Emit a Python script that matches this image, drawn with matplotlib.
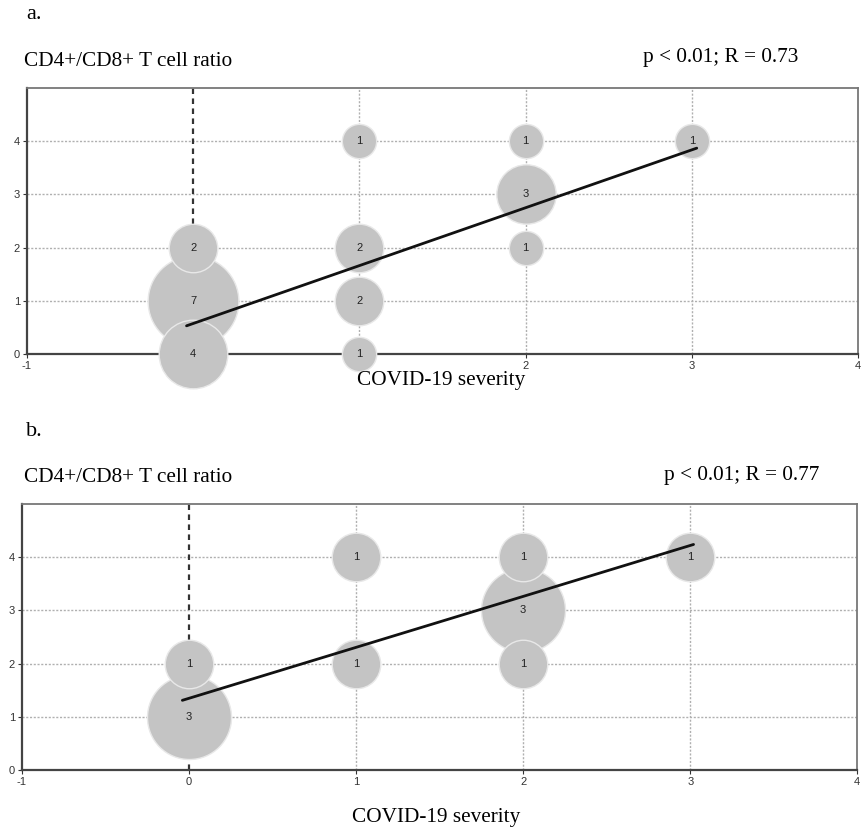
import numpy as np
import matplotlib
matplotlib.use("Agg")
import matplotlib.pyplot as plt

plt.rcParams["axes.unicode_minus"] = False

# -------------------------------
# DATA
# -------------------------------
# panel a: severity, ratio, number of patients
a_severity = [0, 0, 0, 1, 1, 1, 1, 2, 2, 2, 3]
a_ratio = [1, 0, 2, 0, 1, 2, 4, 3, 2, 4, 4]
a_count = [7, 4, 2, 1, 2, 2, 1, 3, 1, 1, 1]
a_fit_x = [-0.04, 3.03]
a_fit_y = [0.53, 3.87]
a_stats = "p < 0.01; R = 0.73"

# panel b
b_severity = [0, 0, 1, 1, 2, 2, 2, 3]
b_ratio = [1, 2, 2, 4, 3, 2, 4, 4]
b_count = [3, 1, 1, 1, 3, 1, 1, 1]
b_fit_x = [-0.04, 3.02]
b_fit_y = [1.31, 4.24]
b_stats = "p < 0.01; R = 0.77"

x_ticks = [-1, 0, 1, 2, 3, 4]
y_ticks = [0, 1, 2, 3, 4]
y_label = "CD4+/CD8+ T cell ratio"
x_label = "COVID-19 severity"

SERIF = "Liberation Serif"
SANS = "Liberation Sans"
BUBBLE = "#c4c4c4"
TXT = 15.3


def draw_panel(fig, rect, xs, ys, counts, fit_x, fit_y, size_per_count):
    ax = fig.add_axes(rect)
    ax.set_xlim(-1, 4)
    ax.set_ylim(0, 5)
    ax.set_xticks(x_ticks)
    ax.set_yticks(y_ticks)
    ax.tick_params(labelsize=8, length=3, width=0.8, colors="#333333", pad=2)
    for lbl in ax.get_xticklabels() + ax.get_yticklabels():
        lbl.set_family(SANS)

    # grid: dotted, except a dark dashed line at severity 0
    for x in x_ticks[2:-1]:
        ax.axvline(x, color="#b0b0b0", lw=1.0, ls=(0, (1.5, 1.2)), zorder=1)
    for y in y_ticks[1:]:
        ax.axhline(y, color="#b0b0b0", lw=1.0, ls=(0, (1.5, 1.2)), zorder=1)
    ax.axvline(0, color="#333333", lw=1.6, ls=(0, (2.5, 2)), zorder=1)

    for side in ["left", "bottom"]:
        ax.spines[side].set_color("#444444")
        ax.spines[side].set_linewidth(1.6)
    for side in ["top", "right"]:
        ax.spines[side].set_color("#777777")
        ax.spines[side].set_linewidth(1.3)

    # biggest bubbles first so small ones sit on top
    order = np.argsort(counts, kind="stable")[::-1]
    for i in order:
        ax.scatter(xs[i], ys[i], s=counts[i] * size_per_count, color=BUBBLE,
                   edgecolors="#e8e8e8", linewidths=1.0, zorder=3, clip_on=False)
        ax.text(xs[i], ys[i], str(counts[i]), ha="center", va="center",
                fontsize=8, family=SANS, color="#222222", zorder=5)

    ax.plot(fit_x, fit_y, color="#111111", lw=2.0, zorder=4,
            solid_capstyle="round")
    return ax


fig = plt.figure(figsize=(8.62, 8.32), dpi=100)

# panel a
draw_panel(fig, [0.0313, 0.5745, 0.9640, 0.3197],
           a_severity, a_ratio, a_count, a_fit_x, a_fit_y, 610)
fig.text(0.030, 0.982, "a.", family=SERIF, fontsize=16, va="center")
fig.text(0.028, 0.926, y_label, family=SERIF, fontsize=TXT, va="center")
fig.text(0.746, 0.931, a_stats, family=SERIF, fontsize=TXT, va="center")
fig.text(0.512, 0.543, x_label, family=SERIF, fontsize=TXT, va="center",
         ha="center")

# panel b
draw_panel(fig, [0.0255, 0.0745, 0.9690, 0.3197],
           b_severity, b_ratio, b_count, b_fit_x, b_fit_y, 1220)
fig.text(0.030, 0.481, "b.", family=SERIF, fontsize=16, va="center")
fig.text(0.028, 0.426, y_label, family=SERIF, fontsize=TXT, va="center")
fig.text(0.770, 0.428, b_stats, family=SERIF, fontsize=TXT, va="center")
fig.text(0.506, 0.017, x_label, family=SERIF, fontsize=TXT, va="center",
         ha="center")

fig.savefig("out.png", dpi=100)
